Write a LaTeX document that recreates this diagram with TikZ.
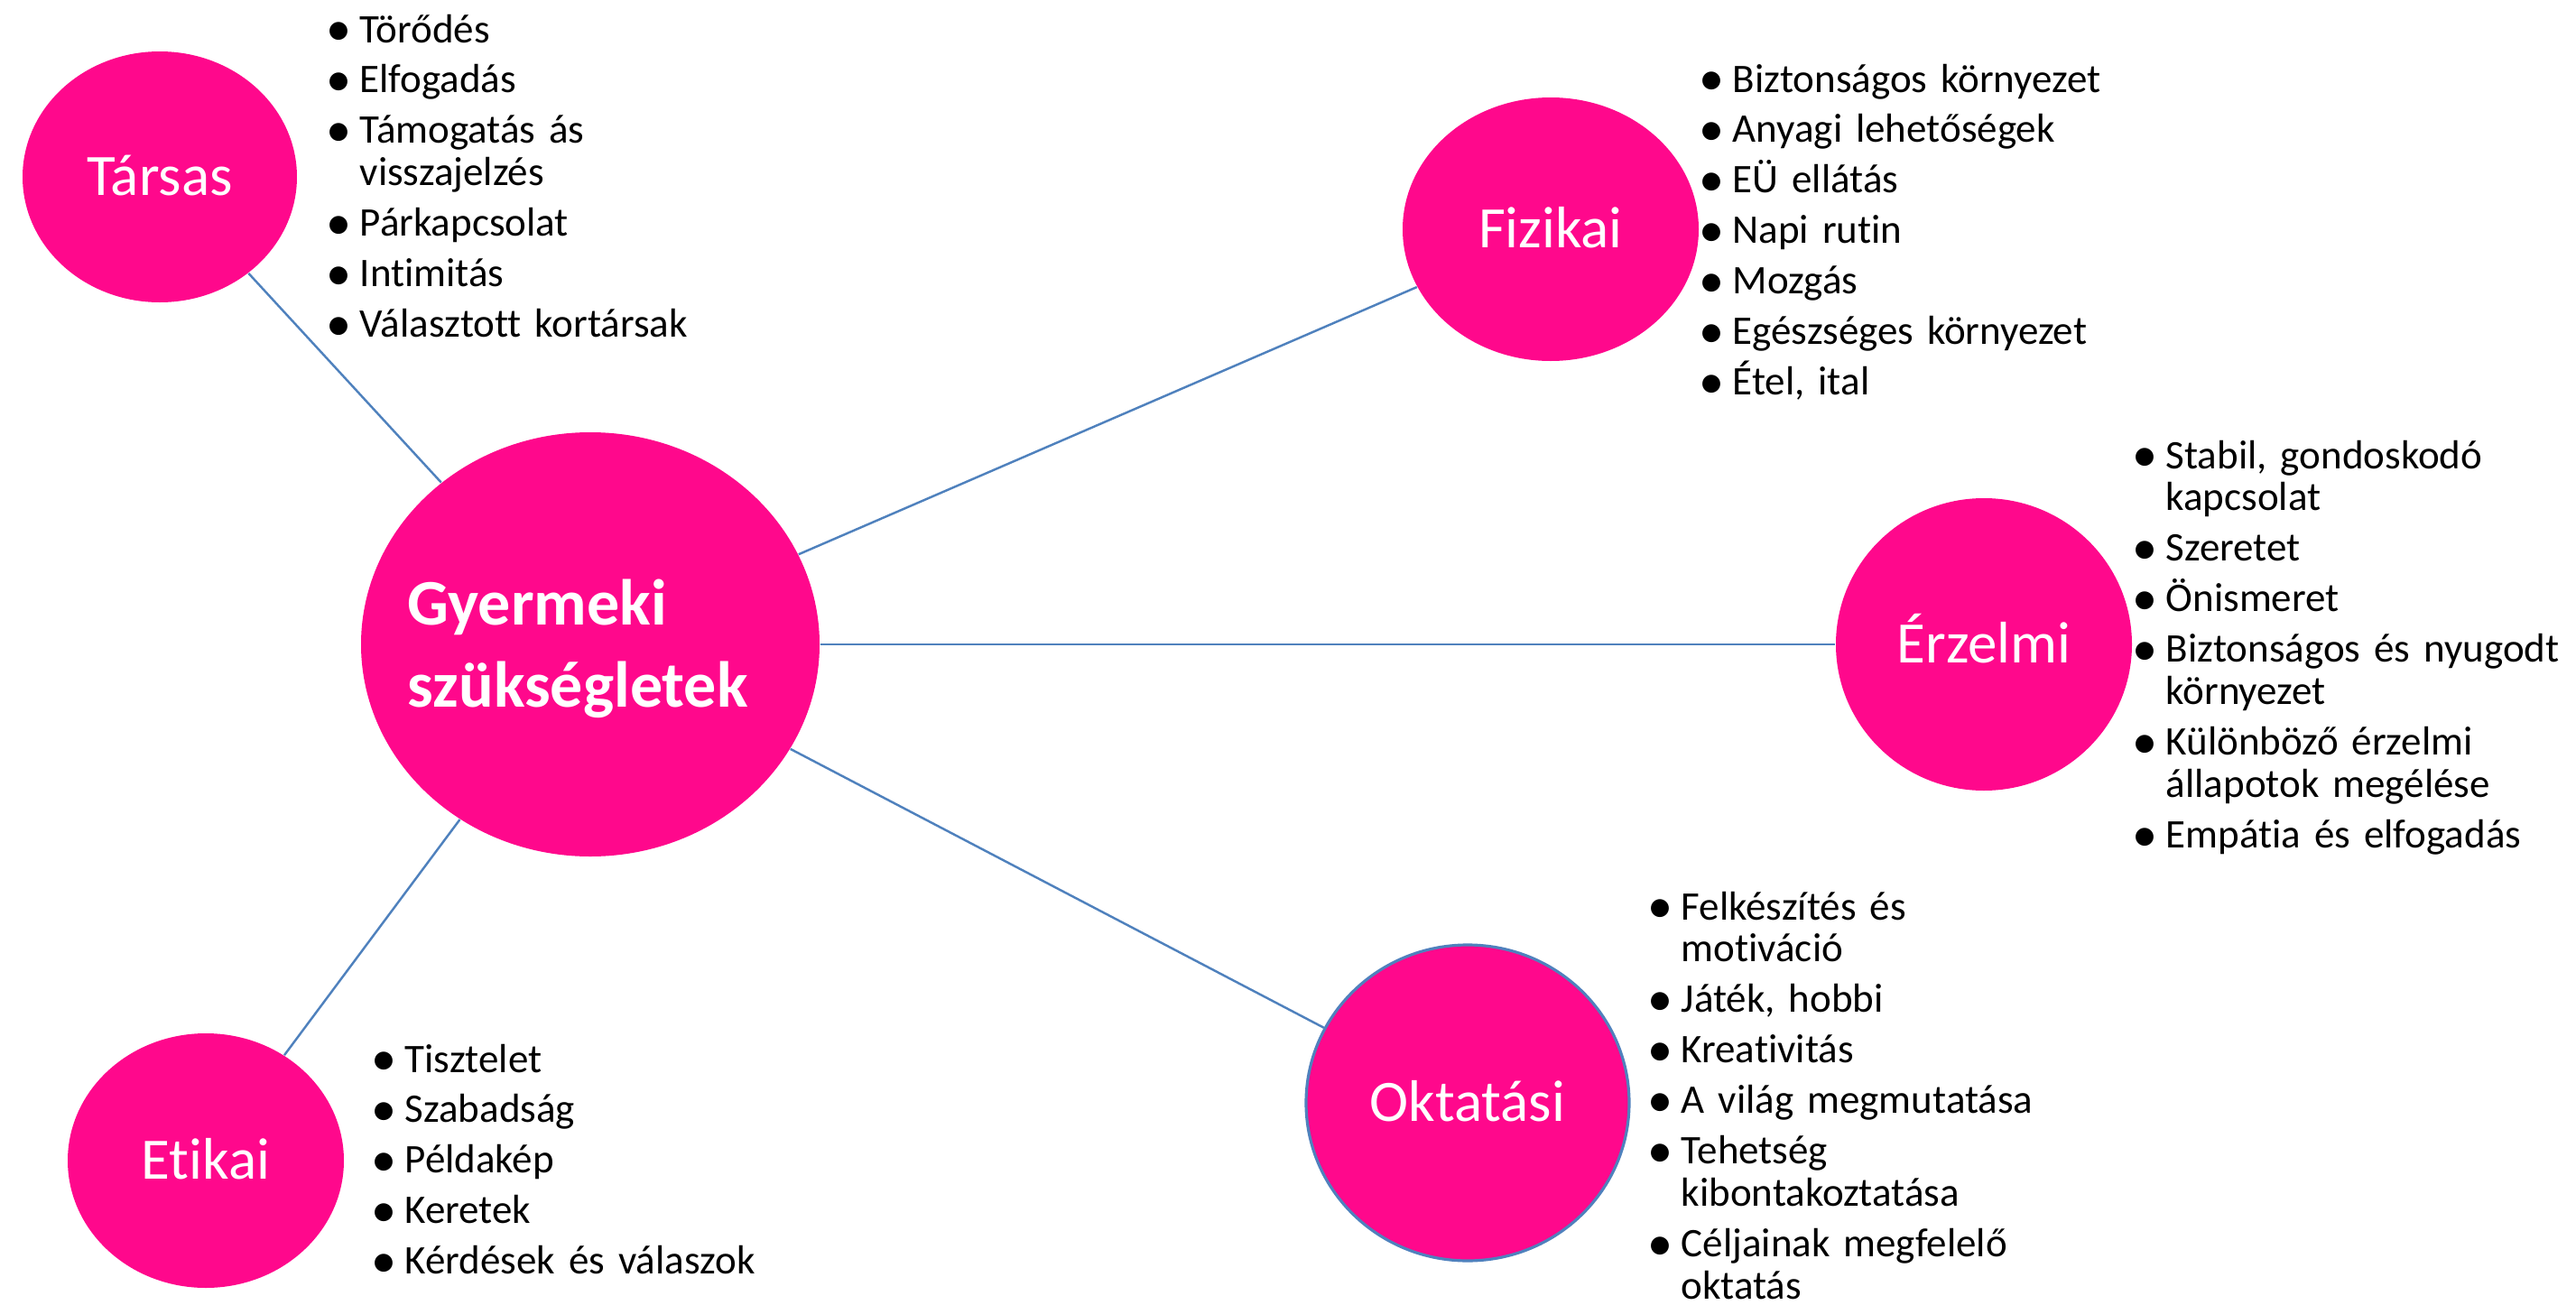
\documentclass[tikz,border=0pt]{standalone}
\usepackage{fontspec}
\setmainfont{Carlito}[Ligatures=NoCommon]
\usepackage{graphicx}
\usetikzlibrary{shapes.geometric}

\definecolor{needpink}{RGB}{255,8,140}
\definecolor{spokeblue}{RGB}{79,129,189}

% bullet and hanging indent for the lists
\newcommand{\blt}{\makebox[0.46cm]{\raisebox{-1pt}[0pt][0pt]{\scalebox{1.25}{\textbullet}}}}
\newcommand{\cnt}{\hspace*{0.46cm}}
\newcommand{\nextitem}{\\[2.56pt]}

\lineskiplimit=-100pt

\tikzset{
  need/.style={ellipse, fill=needpink, inner sep=0pt, text=white,
    font=\fontsize{18.5pt}{22pt}\selectfont, text height=11.9pt, text depth=0pt},
  hub/.style={need, minimum width=5.08cm, minimum height=4.70cm},
  spoke/.style={draw=spokeblue, line width=0.7pt},
  list/.style={anchor=base west, inner sep=0pt, text width=8cm, align=left,
    font=\fontsize{12.8pt}{13.37pt}\selectfont}
}

\begin{document}
\begin{tikzpicture}
\useasboundingbox (0,0) rectangle (28.54,-14.46);

\node[hub] (hub) at (6.54,-7.14) {};
\node[anchor=base west, inner sep=0pt, text width=5cm, align=left, text=white,
  font=\bfseries\fontsize{20.5pt}{25.9pt}\selectfont] (hubtext) at (4.51,-6.92) {Gyermeki\\szükségletek};

\node[need, minimum width=3.04cm, minimum height=2.78cm] (tarsas) at (1.77,-1.96) {Társas};
\node[need, minimum width=3.28cm, minimum height=2.92cm] (fizikai) at (17.18,-2.54) {Fizikai};
\node[need, minimum width=3.28cm, minimum height=3.24cm] (erzelmi) at (21.98,-7.14) {Érzelmi};
\node[need, draw=spokeblue, line width=0.9pt, minimum width=3.58cm, minimum height=3.50cm] (oktatasi) at (16.26,-12.22) {Oktatási};
\node[need, minimum width=3.06cm, minimum height=2.82cm] (etikai) at (2.28,-12.86) {Etikai};

\draw[spoke] (hub) -- (tarsas);
\draw[spoke] (hub) -- (fizikai);
\draw[spoke] (hub) -- (erzelmi);
\draw[spoke] (hub) -- (oktatasi);
\draw[spoke] (hub) -- (etikai);

% lists
\node[list] (tarsaslist) at (3.52,-0.47) {\blt Törődés\nextitem
  \blt Elfogadás\nextitem
  \blt Támogatás ás\\
  \cnt visszajelzés\nextitem
  \blt Párkapcsolat\nextitem
  \blt Intimitás\nextitem
  \blt Választott kortársak};

\node[list] (fizikailist) at (18.73,-1.02) {\blt Biztonságos környezet\nextitem
  \blt Anyagi lehetőségek\nextitem
  \blt EÜ ellátás\nextitem
  \blt Napi rutin\nextitem
  \blt Mozgás\nextitem
  \blt Egészséges környezet\nextitem
  \blt Étel, ital};

\node[list] (erzelmilist) at (23.53,-5.19) {\blt Stabil, gondoskodó\\
  \cnt kapcsolat\nextitem
  \blt Szeretet\nextitem
  \blt Önismeret\nextitem
  \blt Biztonságos és nyugodt\\
  \cnt környezet\nextitem
  \blt Különböző érzelmi\\
  \cnt állapotok megélése\nextitem
  \blt Empátia és elfogadás};

\node[list] (oktatasilist) at (18.16,-10.19) {\blt Felkészítés és\\
  \cnt motiváció\nextitem
  \blt Játék, hobbi\nextitem
  \blt Kreativitás\nextitem
  \blt A világ megmutatása\nextitem
  \blt Tehetség\\
  \cnt kibontakoztatása\nextitem
  \blt Céljainak megfelelő\\
  \cnt oktatás};

\node[list] (etikailist) at (4.02,-11.88) {\blt Tisztelet\nextitem
  \blt Szabadság\nextitem
  \blt Példakép\nextitem
  \blt Keretek\nextitem
  \blt Kérdések és válaszok};
\end{tikzpicture}
\end{document}
